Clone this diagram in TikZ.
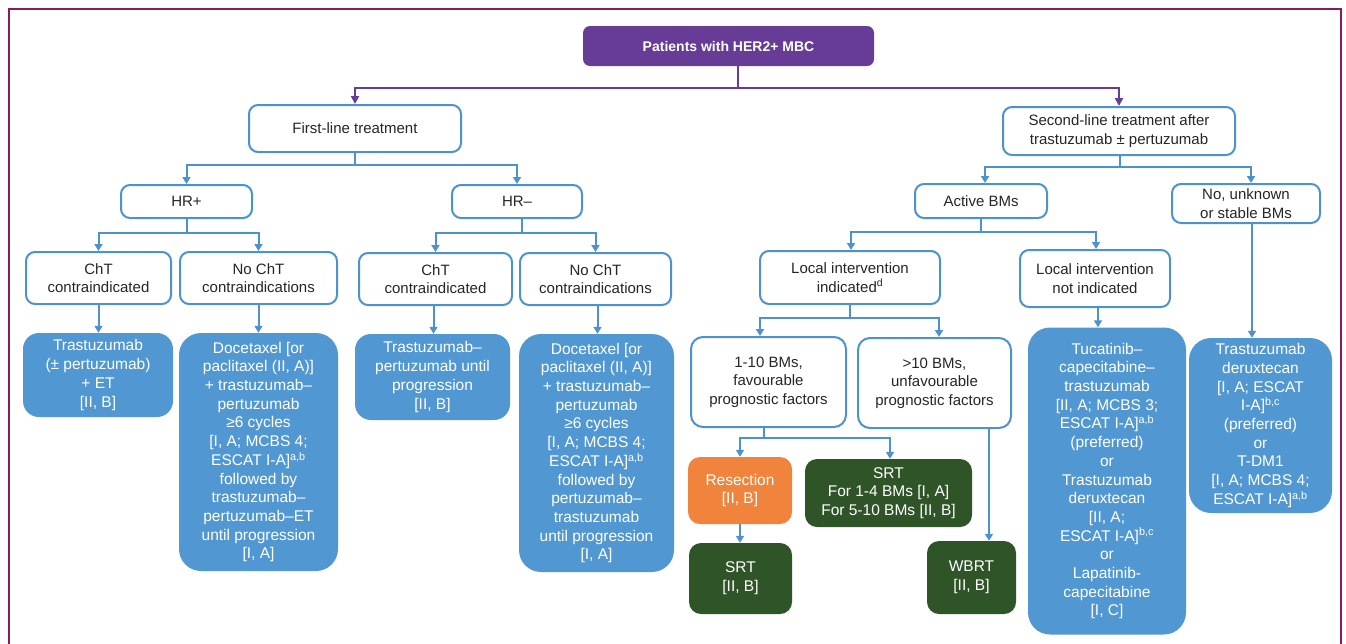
\documentclass[tikz,border=0pt]{standalone}
\usepackage{fontspec}
\setmainfont{Liberation Sans}
\usetikzlibrary{arrows.meta}
\definecolor{bl}{HTML}{5198D3}
\definecolor{bls}{HTML}{4D92CF}
\definecolor{pu}{HTML}{673C97}
\definecolor{mr}{HTML}{8B1A5A}
\definecolor{og}{HTML}{F0843C}
\definecolor{dg}{HTML}{2F5427}
\definecolor{tx}{HTML}{262626}
\begin{document}
\begin{tikzpicture}[x=1pt,y=-1pt,
  sz/.style 2 args={minimum width=#1pt, minimum height=#2pt},
  wbox/.style={draw=bls, line width=2pt, fill=white, rounded corners=9pt, align=center, text=tx, font=\fontsize{15}{18.5}\selectfont, inner sep=0pt},
  fbox/.style={fill=bl, rounded corners=16pt, align=center, text=white, font=\fontsize{15.5}{18.7}\selectfont, inner sep=0pt},
  obox/.style={fbox, fill=og},
  gbox/.style={fbox, fill=dg, rounded corners=12pt},
  pbox/.style={fill=pu, rounded corners=7pt, align=center, text=white, font=\fontsize{14}{17}\selectfont\bfseries, inner sep=0pt},
  barr/.style={draw=bls, line width=2pt, -{Triangle[width=8pt,length=7pt]}},
  parr/.style={draw=pu, line width=2pt, -{Triangle[width=8pt,length=8pt]}},
]
\useasboundingbox (0,0) rectangle (1346,643);
\draw[mr, line width=2.5pt] (9,645) -- (9,9) -- (1341,9) -- (1341,645);

% top
\node[pbox, sz={291}{40}] (top) at (728.5,46) {Patients with HER2+ MBC};
\node[wbox, sz={212}{47}] (first) at (355,128.5) {First-line treatment};
\node[wbox, sz={232}{48}] (second) at (1119,131) {Second-line treatment after\\trastuzumab ± pertuzumab};

\draw[parr] ([xshift=9.5pt]top.south) -- ++(0,22) -| (first.north);
\draw[parr] ([xshift=9.5pt]top.south) -- ++(0,22) -| (second.north);

% first-line
\node[wbox, sz={131}{33}] (hrp) at (186.5,201.5) {HR+};
\node[wbox, sz={130}{33}] (hrm) at (517,201.5) {HR\textendash};
\draw[barr] (first.south) -- ++(0,12) -| (hrp.north);
\draw[barr] (first.south) -- ++(0,12) -| (hrm.north);

\node[wbox, sz={145}{52}] (cht1) at (98.5,278) {ChT\\contraindicated};
\node[wbox, sz={157}{52}] (noc1) at (258.5,278) {No ChT\\contraindications};
\node[wbox, sz={153}{52}] (cht2) at (435.5,279) {ChT\\contraindicated};
\node[wbox, sz={151}{52}] (noc2) at (595.5,279) {No ChT\\contraindications};
\draw[barr] (hrp.south) -- ++(0,14) -| (cht1.north);
\draw[barr] (hrp.south) -- ++(0,14) -| (noc1.north);
\draw[barr] ([xshift=5pt]hrm.south) -- ++(0,14) -| (cht2.north);
\draw[barr] ([xshift=5pt]hrm.south) -- ++(0,14) -| (noc2.north);

\node[fbox, sz={150}{84}] (f1) at (98,375) {Trastuzumab\\(± pertuzumab)\\+ ET\\{[}II, B{]}};
\node[fbox, sz={159}{238}, rounded corners=22pt] (f2) at (258.5,452) {Docetaxel [or\\paclitaxel (II, A)]\\+ trastuzumab\textendash\\pertuzumab\\≥6 cycles\\{[}I, A; MCBS 4;\\ESCAT I-A]\textsuperscript{a,b}\\followed by\\trastuzumab\textendash\\pertuzumab\textendash ET\\until progression\\{[}I, A{]}};
\node[fbox, sz={155}{86}] (f3) at (432.5,377) {Trastuzumab\textendash\\pertuzumab until\\progression\\{[}II, B{]}};
\node[fbox, sz={155}{238}, rounded corners=22pt] (f4) at (596.5,453) {Docetaxel [or\\paclitaxel (II, A)]\\+ trastuzumab\textendash\\pertuzumab\\≥6 cycles\\{[}I, A; MCBS 4;\\ESCAT I-A]\textsuperscript{a,b}\\followed by\\pertuzumab\textendash\\trastuzumab\\until progression\\{[}I, A{]}};
\draw[barr] (cht1.south) -- (cht1.south |- f1.north);
\draw[barr] (noc1.south) -- (noc1.south |- f2.north);
\draw[barr] ([xshift=-2pt]cht2.south) -- ([xshift=-2pt]cht2.south |- f3.north);
\draw[barr] ([xshift=2pt]noc2.south) -- ([xshift=2pt]noc2.south |- f4.north);

% second-line
\node[wbox, sz={132}{34}] (active) at (981,201) {Active BMs};
\node[wbox, sz={148}{39}] (nosb) at (1246,203.5) {No, unknown\\or stable BMs};
\draw[barr] ([xshift=1pt]second.south) -- ++(0,11) -| ([xshift=4pt]active.north);
\draw[barr] ([xshift=1pt]second.south) -- ++(0,11) -| ([xshift=5pt]nosb.north);

\node[wbox, sz={180}{53}] (lii) at (850,277.5) {Local intervention\\indicated\textsuperscript{d}};
\node[wbox, sz={150}{57}] (lin) at (1095,278.5) {Local intervention\\not indicated};
\draw[barr] (active.south) -- ++(0,13) -| ([xshift=1pt]lii.north);
\draw[barr] (active.south) -- ++(0,13) -| ([xshift=1pt]lin.north);

\node[wbox, sz={155}{90}, rounded corners=12pt] (b110) at (768.5,382) {1-10 BMs,\\favourable\\prognostic factors};
\node[wbox, sz={153}{90}, rounded corners=12pt] (b10p) at (934.5,383) {>10 BMs,\\unfavourable\\prognostic factors};
\draw[barr] (lii.south) -- ++(0,13) -| ([xshift=-8.5pt]b110.north);
\draw[barr] (lii.south) -- ++(0,13) -| ([xshift=4.5pt]b10p.north);

\node[obox, sz={104}{67}, rounded corners=12pt] (res) at (740,490.5) {Resection\\{[}II, B{]}};
\node[gbox, sz={167}{68}] (srt1) at (888.5,493) {SRT\\For 1-4 BMs [I, A]\\For 5-10 BMs [II, B]};
\node[gbox, sz={103}{71}] (srt2) at (740.5,578.5) {SRT\\{[}II, B{]}};
\node[gbox, sz={89}{73}] (wbrt) at (971.5,577.5) {WBRT\\{[}II, B{]}};
\draw[barr] ([xshift=-4.5pt]b110.south) -- ++(0,10) -| (res.north);
\draw[barr] ([xshift=-4.5pt]b110.south) -- ++(0,10) -| ([xshift=1.5pt]srt1.north);
\draw[barr] (res.south) -- (res.south |- srt2.north);
\draw[barr] ([xshift=54.5pt]b10p.south) -- ([xshift=54.5pt]b10p.south |- wbrt.north);

\node[fbox, sz={158}{307}, rounded corners=22pt] (tuc) at (1107,481) {Tucatinib\textendash\\capecitabine\textendash\\trastuzumab\\{[}II, A; MCBS 3;\\ESCAT I-A]\textsuperscript{a,b}\\(preferred)\\or\\Trastuzumab\\deruxtecan\\{[}II, A;\\ESCAT I-A]\textsuperscript{b,c}\\or\\Lapatinib-\\capecitabine\\{[}I, C{]}};
\node[fbox, sz={143}{175}, rounded corners=22pt] (tdx) at (1260.5,425.5) {Trastuzumab\\deruxtecan\\{[}I, A; ESCAT\\I-A]\textsuperscript{b,c}\\(preferred)\\or\\T-DM1\\{[}I, A; MCBS 4;\\ESCAT I-A]\textsuperscript{a,b}};
\draw[barr] ([xshift=3pt]lin.south) -- ([xshift=3pt]lin.south |- tuc.north);
\draw[barr] ([xshift=6pt]nosb.south) -- ([xshift=6pt]nosb.south |- tdx.north);
\end{tikzpicture}
\end{document}
